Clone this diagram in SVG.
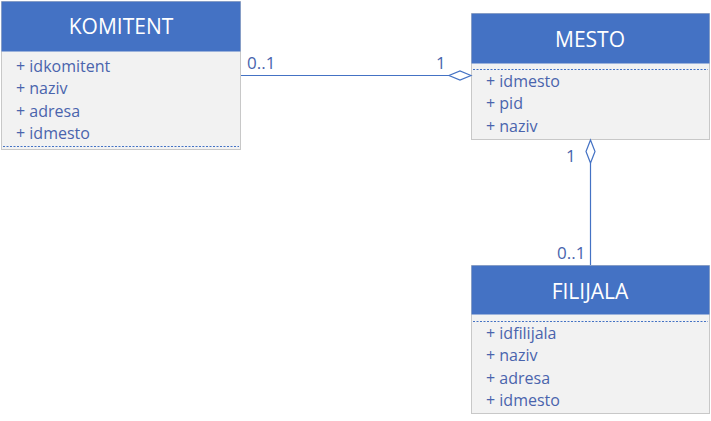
<svg xmlns="http://www.w3.org/2000/svg" width="711" height="421" viewBox="0 0 711 421">
<style>
.body{fill:#f2f2f2;stroke:#c8c8c8;stroke-width:1}
.head{fill:#4472c4}
.title{font-family:"Open Sans","Liberation Sans",sans-serif;font-size:21px;fill:#ffffff;text-anchor:middle}
.attr{font-family:"Open Sans","Liberation Sans",sans-serif;font-size:16px;fill:#4a64ad}
.lbl{font-family:"Open Sans","Liberation Sans",sans-serif;font-size:17px;fill:#4a64ad}
.dash{stroke:#4472c4;stroke-width:1;stroke-dasharray:2,1.5}
.conn{stroke:#4472c4;stroke-width:1.2;fill:none}
.dia{stroke:#4472c4;stroke-width:1.2;fill:#ffffff}
</style>
<g id="KOMITENT">
<rect class="body" x="1.5" y="1.5" width="239" height="148"/>
<rect class="head" x="1.5" y="1.5" width="239" height="50"/>
<text class="title" x="121" y="34">KOMITENT</text>
<text class="attr" x="16" y="72">+ idkomitent</text>
<text class="attr" x="16" y="94">+ naziv</text>
<text class="attr" x="16" y="117">+ adresa</text>
<text class="attr" x="16" y="139">+ idmesto</text>
<line class="dash" x1="3" y1="146.5" x2="239" y2="146.5"/>
</g>
<g id="MESTO">
<rect class="body" x="471.5" y="13.5" width="238" height="126"/>
<rect class="head" x="471.5" y="13.5" width="238" height="50"/>
<text class="title" x="590" y="47">MESTO</text>
<line class="dash" x1="473" y1="69.5" x2="708" y2="69.5"/>
<text class="attr" x="486" y="87">+ idmesto</text>
<text class="attr" x="486" y="109">+ pid</text>
<text class="attr" x="486" y="132">+ naziv</text>
</g>
<g id="FILIJALA">
<rect class="body" x="471.5" y="265.5" width="238" height="148"/>
<rect class="head" x="471.5" y="265.5" width="238" height="49"/>
<text class="title" x="590" y="299">FILIJALA</text>
<line class="dash" x1="473" y1="321.5" x2="708" y2="321.5"/>
<text class="attr" x="486" y="339">+ idfilijala</text>
<text class="attr" x="486" y="361">+ naziv</text>
<text class="attr" x="486" y="384">+ adresa</text>
<text class="attr" x="486" y="406">+ idmesto</text>
</g>
<g id="connectors">
<line class="conn" x1="241" y1="75.5" x2="449" y2="75.5"/>
<polygon class="dia" points="471,75.5 460,71 449,75.5 460,80"/>
<text class="lbl" x="247" y="69">0..1</text>
<text class="lbl" x="436" y="69">1</text>
<line class="conn" x1="590.5" y1="163" x2="590.5" y2="265"/>
<polygon class="dia" points="590.5,140 595,151.5 590.5,163 586,151.5"/>
<text class="lbl" x="566" y="162">1</text>
<text class="lbl" x="557" y="259">0..1</text>
</g>
</svg>
